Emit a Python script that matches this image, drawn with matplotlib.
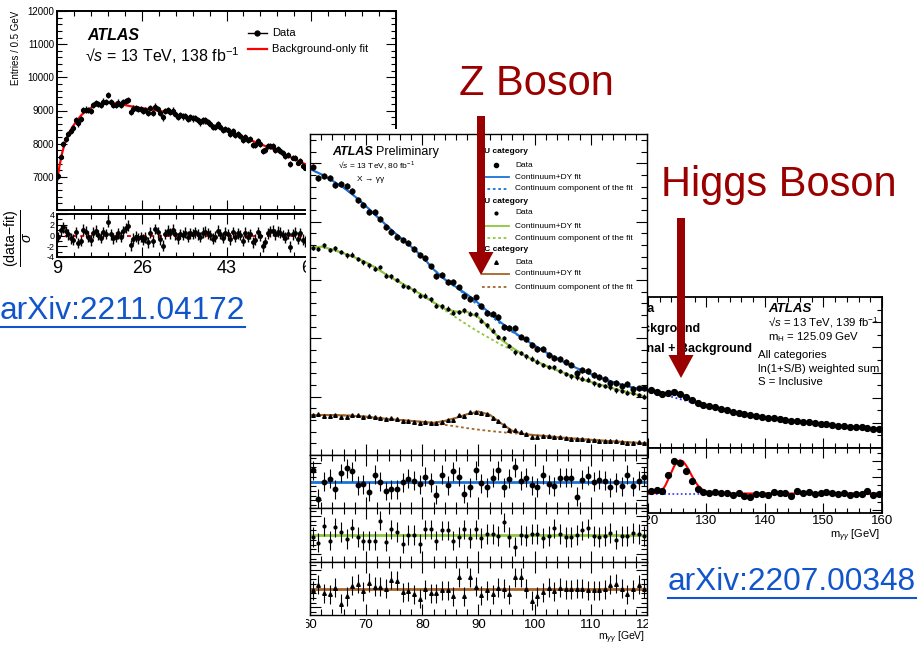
import numpy as np
import matplotlib.pyplot as plt
from matplotlib.patches import Rectangle, FancyArrow
from matplotlib.transforms import Bbox, TransformedBbox
from matplotlib.ticker import MultipleLocator, FixedLocator

plt.rcParams['font.family'] = ['Liberation Sans', 'DejaVu Sans']
plt.rcParams['mathtext.fontset'] = 'custom'
plt.rcParams['mathtext.rm'] = 'Liberation Sans'
plt.rcParams['mathtext.it'] = 'Liberation Sans:italic'
plt.rcParams['mathtext.bf'] = 'Liberation Sans:bold'
plt.rcParams['axes.unicode_minus'] = False

#%% data

# left: low-mass diphoton, 0.5 GeV bins from 9.25 GeV
low_data = [7020, 7610, 7990, 8150, 8290, 8370, 8460, 8700, 8610, 8740,
            9010, 9030, 9010, 8990, 9160, 9230, 9190, 9160, 9270, 9250,
            9470, 9250, 9180, 9180, 9240, 9170, 9250, 9290, 9310, 8960,
            9060, 9080, 9040, 9040, 8990, 9010, 8920, 9080, 8920, 9120,
            9050, 8920, 8790, 8980, 9020, 8950, 9000, 8890, 8810, 8860,
            8820, 8840, 8750, 8790, 8760, 8770, 8710, 8640, 8700, 8700,
            8650, 8590, 8500, 8510, 8580, 8500, 8400, 8450, 8400, 8280,
            8370, 8260, 8300, 8240, 8100, 8210, 8120, 8140, 7960, 7970,
            8070, 7980, 7770, 7810, 7940, 7940, 7920, 7820, 7830, 7780,
            7710, 7620, 7660, 7390, 7580, 7570, 7430, 7490, 7340, 7280,
            7380, 7380]
low_pull = [-0.3, 1.0, 1.5, 0.8, 0.2, -0.5, -0.8, 0.6, -1.4, -1.0,
            1.1, 0.7, -0.2, -0.9, 0.5, 0.9, 0.1, -0.4, 0.6, 0.3,
            2.6, 0.2, -0.5, -0.3, 0.4, -0.2, 0.8, 1.4, 1.8, -1.8,
            -0.6, -0.2, -0.5, -0.3, -0.8, -0.4, -1.3, 0.5, -1.1, 1.2,
            0.6, -0.7, -1.9, 0.3, 0.9, 0.4, 1.1, 0.2, -0.5, 0.3,
            0.1, 0.5, -0.2, 0.4, 0.3, 0.6, 0.2, -0.3, 0.5, 0.7,
            0.4, 0.1, -0.6, -0.2, 0.9, 0.3, -0.4, 0.5, 0.2, -0.7,
            0.6, -0.3, 0.4, 0.1, -1.0, 0.5, -0.2, 0.3, -1.3, -0.8,
            0.6, -0.1, -2.0, -1.2, 0.4, 0.8, 0.9, 0.2, 0.7, 0.5,
            0.1, -0.4, 0.3, -2.1, 0.2, 0.5, -0.6, 0.4, -0.8, -1.1,
            0.2, 0.6]
low_fit_x = [9.0, 9.5, 10, 10.5, 11, 12, 13, 14, 15, 16, 17, 18, 19, 20, 21, 22,
             24, 26, 28, 30, 32, 34, 36, 38, 40, 42, 44, 46, 48, 50, 52, 54, 56, 58, 60]
low_fit_y = [6850, 7330, 7700, 7980, 8180, 8480, 8700, 8880, 9000, 9100, 9165, 9208,
             9228, 9228, 9210, 9182, 9122, 9070, 9030, 8978, 8905, 8825, 8745, 8665,
             8573, 8455, 8335, 8215, 8095, 7975, 7855, 7718, 7578, 7438, 7300]

# middle: Z peak in the three categories, 1 GeV bins from 60.5 GeV
uu_data = [2470, 2370, 2390, 2370, 2315, 2325, 2305, 2260, 2185, 2145,
           2080, 2080, 2020, 1950, 1910, 1865, 1845, 1815, 1765, 1715,
           1685, 1615, 1535, 1545, 1480, 1485, 1435, 1360, 1340, 1350,
           1275, 1220, 1205, 1185, 1100, 1090, 1085, 1015, 990, 940,
           910, 910, 860, 830, 825, 800, 775, 705, 730, 720,
           685, 670, 650, 620, 615, 590, 610, 565, 570, 570]
uu_pull = [1.2, -1.8, 0.0, 0.3, -0.8, 0.9, 1.4, 1.1, -0.4, -0.3,
           -1.1, 0.7, 0.0, -1.0, -0.8, -0.8, -0.1, 0.3, 0.1, -0.3,
           0.5, -0.1, -1.4, 0.7, -0.4, 1.1, 0.5, -1.3, -0.6, 1.2,
           -0.2, -0.6, 0.4, 1.2, -0.6, 0.3, 1.5, 0.1, 0.4, -0.4,
           -0.6, 0.7, -0.3, -0.5, 0.4, 0.4, 0.4, -1.6, 0.2, 0.6,
           0.0, 0.2, 0.1, -0.6, -0.1, -0.5, 0.7, -0.5, 0.1, 0.5]
cu_data = [1775, 1765, 1795, 1755, 1770, 1740, 1710, 1715, 1680, 1650,
           1625, 1595, 1610, 1535, 1530, 1500, 1450, 1440, 1410, 1365,
           1365, 1335, 1280, 1275, 1255, 1220, 1225, 1240, 1210, 1205,
           1150, 1110, 1065, 1010, 1000, 935, 880, 875, 845, 825,
           800, 770, 755, 750, 720, 695, 675, 665, 655, 645,
           615, 600, 590, 580, 555, 550, 535, 530, 515, 500]
cu_pull = [-0.2, -0.8, 0.9, -0.6, 0.8, 0.3, -0.4, 0.7, -0.2, -0.6,
           -0.6, -0.6, 1.5, -0.7, 0.6, 0.3, -0.9, 0.0, 0.0, -0.9,
           0.6, 0.6, -0.6, 0.5, 0.5, -0.6, -0.2, 0.6, -0.3, 0.6,
           -0.3, 0.1, 0.1, -0.1, 1.3, -0.2, -1.2, 0.0, -0.1, 0.1,
           0.1, -0.3, -0.1, 0.7, 0.1, -0.2, -0.2, 0.0, 0.5, 0.7,
           -0.1, -0.2, -0.1, 0.2, -0.5, -0.1, -0.1, 0.2, 0.1, -0.1]
cc_data = [340, 348, 337, 335, 343, 322, 329, 340, 339, 326,
           333, 323, 318, 311, 317, 312, 293, 290, 283, 273,
           282, 271, 273, 286, 296, 301, 340, 332, 370, 369,
           357, 350, 320, 291, 256, 217, 215, 201, 178, 157,
           158, 159, 161, 151, 151, 145, 141, 139, 135, 130,
           126, 123, 121, 124, 122, 113, 103, 106, 109, 101]
cc_pull = [-0.2, 0.4, -0.5, -0.6, 0.1, -1.6, -0.8, 0.3, 0.5, -0.3,
           0.6, 0.2, 0.2, 0.0, 0.9, 0.8, -0.4, -0.3, -0.6, -1.1,
           -0.1, -0.5, -0.5, -0.2, -0.2, -0.8, 1.2, -0.8, 1.2, 0.2,
           -0.7, -0.2, -0.6, 0.1, 0.0, -0.6, 1.2, 1.2, 0.0, -1.3,
           -0.8, -0.4, 0.1, -0.3, 0.1, -0.1, -0.1, 0.0, 0.0, -0.2,
           -0.2, -0.2, -0.1, 0.4, 0.5, 0.0, -0.6, -0.1, 0.4, 0.0]
uu_err, cu_err, cc_err = 25, 20, 10
# fit curves at 2 GeV steps, 60 ... 120
uu_fit = [2450, 2405, 2350, 2290, 2215, 2130, 2040, 1950, 1865, 1785, 1700, 1590, 1505,
          1440, 1375, 1300, 1215, 1135, 1062, 997, 937, 880, 826, 777, 733, 693, 657,
          625, 596, 572, 553]
uu_cont = [2450, 2405, 2350, 2290, 2215, 2130, 2040, 1950, 1865, 1785, 1700, 1590, 1505,
           1435, 1360, 1280, 1198, 1122, 1055, 997, 937, 880, 826, 777, 733, 693, 657,
           625, 596, 572, 553]
cu_fit = [1775, 1785, 1760, 1728, 1692, 1650, 1595, 1532, 1480, 1425, 1370, 1308, 1252,
          1228, 1226, 1180, 1085, 990, 920, 858, 808, 765, 725, 690, 655, 625, 598,
          570, 545, 520, 497]
cu_cont = [1775, 1785, 1760, 1728, 1692, 1650, 1595, 1532, 1480, 1425, 1370, 1305, 1240,
           1178, 1115, 1055, 1000, 945, 898, 855, 808, 765, 725, 690, 655, 625, 598,
           570, 545, 520, 497]
cc_fit = [342, 343, 342, 340, 335, 328, 318, 308, 300, 292, 284, 276, 292, 318, 350, 372,
          345, 272, 208, 180, 170, 162, 152, 144, 137, 130, 123, 117, 111, 105, 100]
cc_cont = [342, 343, 342, 340, 335, 328, 318, 308, 300, 292, 284, 272, 258, 245, 230, 217,
           206, 196, 187, 179, 170, 162, 152, 144, 137, 130, 123, 117, 111, 105, 100]

# right: H -> yy weighted sum, 1 GeV bins from 120.5 GeV
higgs_data = [2285, 2225, 2155, 2190, 2210, 2135, 2020, 1900, 1790, 1720,
              1660, 1615, 1545, 1500, 1435, 1405, 1340, 1300, 1280, 1245,
              1205, 1195, 1155, 1125, 1075, 1085, 1050, 1025, 990, 970,
              950, 920, 890, 875, 845, 830, 815, 810, 770, 760]
higgs_resid = [15, 20, 18, 115, 200, 190, 140, 78, 25, 10,
               5, 8, 5, 6, -12, 4, -18, -20, -5, -2,
               -10, 12, 2, 5, -18, 15, 6, 8, -4, 2,
               8, 4, -6, 3, -8, -2, 0, 14, -8, -4]
higgs_fit_x = [118, 120, 121, 122, 123, 124, 125, 126, 127, 128, 129, 130, 131, 132,
               134, 136, 138, 140, 142, 144, 146, 148, 150, 152, 154, 156, 158, 160]
higgs_sb = [2365, 2300, 2237, 2178, 2155, 2168, 2175, 2112, 1995, 1870, 1770, 1694, 1634,
            1565, 1470, 1375, 1300, 1230, 1165, 1107, 1055, 1005, 955, 905, 862, 822, 787, 755]
higgs_bkg = [2365, 2300, 2235, 2170, 2105, 2040, 1975, 1912, 1850, 1790, 1735, 1682, 1630,
             1565, 1470, 1375, 1300, 1230, 1165, 1107, 1055, 1005, 955, 905, 862, 822, 787, 755]
sig_x = [120, 121, 121.5, 122, 122.5, 123, 123.5, 124, 124.5, 125, 125.5, 126, 126.5,
         127, 127.5, 128, 128.5, 129, 129.5, 130, 131, 132, 160]
sig_y = [0, 2, 4, 8, 22, 50, 88, 128, 168, 195, 205, 198, 175, 145, 110, 78, 52, 33, 20,
         12, 4, 0, 0]

low_bins = np.arange(9.25, 60, 0.5)
zz_bins = np.arange(60.5, 120, 1.0)
zz_fit_x = np.arange(60, 121, 2)
higgs_bins = np.arange(120.5, 160, 1.0)

#%% helpers

W, H = 918, 648
dark_red = '#9a0000'
link_blue = '#1155cc'
uu_col, cu_col, cc_col = '#1a72d6', '#8dc63f', '#a5652a'


def px_rect(x0, y0, x1, y1):
    # pixel box measured from the top-left corner -> figure fraction
    return [x0 / W, 1 - y1 / H, (x1 - x0) / W, (y1 - y0) / H]


def root_axes(ax, lw=1.0, major=6, minor=3, size=8):
    for s in ax.spines.values():
        s.set_linewidth(lw)
    ax.tick_params(which='both', direction='in', top=True, right=True,
                   labelsize=size, width=0.8)
    ax.tick_params(which='major', length=major)
    ax.tick_params(which='minor', length=minor)


fig = plt.figure(figsize=(W / 100, H / 100), dpi=100)

#%% left plot

ax1 = fig.add_axes(px_rect(57, 11, 396, 210))
ax1r = fig.add_axes(px_rect(57, 214, 396, 257))
for a in (ax1, ax1r):
    a.set_zorder(1)
    root_axes(a, lw=1.4, major=7, minor=3.5, size=7)
    a.set_xlim(9, 77)
    a.xaxis.set_major_locator(FixedLocator([9, 26, 43, 60, 77]))
    a.xaxis.set_minor_locator(FixedLocator(np.arange(9, 77.1, 3.4)))

ax1.errorbar(low_bins, low_data, yerr=np.sqrt(low_data), fmt='o', color='k',
             ms=2.8, elinewidth=1, capsize=0, zorder=3)
ax1.plot(low_fit_x, low_fit_y, color='red', lw=1.6, zorder=2)
ax1.set_ylim(6000, 12000)
ax1.set_yticks(range(6000, 12001, 1000), [''] + [str(v) for v in range(7000, 12001, 1000)])
ax1.yaxis.set_minor_locator(MultipleLocator(200))
ax1.tick_params(labelbottom=False, pad=2)
ax1.set_ylabel('Entries / 0.5 GeV', fontsize=7, loc='top')
ax1.yaxis.set_label_coords(-0.105, 1.0)

ax1.text(0.088, 0.854, 'ATLAS', transform=ax1.transAxes, fontsize=11.5,
         fontweight='bold', fontstyle='italic', va='baseline')
ax1.text(0.083, 0.742, '√$s$ = 13 TeV, 138 fb$^{\\mathrm{-1}}$', transform=ax1.transAxes,
         fontsize=11.5, va='baseline')
ax1.plot([0.563, 0.619], [0.889, 0.889], color='k', lw=1, transform=ax1.transAxes)
ax1.plot([0.591], [0.889], 'o', color='k', ms=3.5, transform=ax1.transAxes)
ax1.plot([0.563, 0.619], [0.809, 0.809], color='red', lw=1.6, transform=ax1.transAxes)
ax1.text(0.634, 0.889, 'Data', transform=ax1.transAxes, fontsize=8, va='center')
ax1.text(0.634, 0.809, 'Background-only fit', transform=ax1.transAxes, fontsize=8, va='center')

ax1r.errorbar(low_bins, low_pull, yerr=1.0, fmt='o', color='k', ms=2.5,
              elinewidth=1, capsize=0, zorder=3)
ax1r.axhline(0, color='red', lw=1.4, ls=(0, (2, 2)), zorder=2)
ax1r.set_ylim(-4, 4)
ax1r.set_yticks([-4, -2, 0, 2, 4])
ax1r.yaxis.set_minor_locator(MultipleLocator(1))
ax1r.tick_params(axis='y', labelsize=6.5, pad=1.5)
ax1r.tick_params(axis='x', labelsize=13, pad=2.5)
ax1r.set_ylabel(r'$\frac{\mathrm{(data{-}fit)}}{\sigma}$', fontsize=14.5)
ax1r.yaxis.set_label_coords(-0.066, 0.45)

#%% right plot (Higgs), partly hidden by the middle one

fig.add_artist(Rectangle((540 / W, 1 - 548 / H), 365 / W, 258 / H, transform=fig.transFigure,
                         facecolor='white', edgecolor='none', zorder=2))
ax3 = fig.add_axes(px_rect(560, 297, 882, 448))
ax3r = fig.add_axes(px_rect(560, 448, 882, 513))
for a in (ax3, ax3r):
    a.set_zorder(3)
    root_axes(a, lw=1.3, major=7, minor=3.5, size=9.5)
    a.set_xlim(105, 160)
    a.xaxis.set_major_locator(MultipleLocator(10))
    a.xaxis.set_minor_locator(MultipleLocator(2))
    a.tick_params(labelleft=False)

ax3.plot(higgs_fit_x, higgs_bkg, color='#2b2bff', lw=1.3, ls=(0, (1, 1.5)), zorder=2)
ax3.plot(higgs_fit_x, higgs_sb, color='red', lw=1.5, zorder=2)
ax3.plot(higgs_bins, higgs_data, 'o', color='k', ms=4.2, zorder=3)
ax3.set_ylim(0, 6000)
ax3.yaxis.set_major_locator(MultipleLocator(1000))
ax3.yaxis.set_minor_locator(MultipleLocator(500))
ax3.tick_params(labelbottom=False)

leg_y = [0.921, 0.788, 0.656]
ax3.plot([0.14], [leg_y[0]], 'o', color='k', ms=4.2, transform=ax3.transAxes)
ax3.plot([0.10, 0.18], [leg_y[1]] * 2, color='#2b2bff', ls=(0, (1, 1.5)), transform=ax3.transAxes)
ax3.plot([0.10, 0.18], [leg_y[2]] * 2, color='red', lw=1.5, transform=ax3.transAxes)
for yy, lab in zip(leg_y, ['Data', 'Background', 'Signal + Background']):
    ax3.text(0.208, yy, lab, transform=ax3.transAxes, fontsize=9, fontweight='bold', va='center')

ax3.text(0.646, 0.921, 'ATLAS', transform=ax3.transAxes, fontsize=9.5,
         fontweight='bold', fontstyle='italic', va='center')
ax3.text(0.646, 0.828, '√$s$ = 13 TeV, 139 fb$^{\\mathrm{-1}}$', transform=ax3.transAxes,
         fontsize=8.2, va='center')
ax3.text(0.646, 0.735, r'm$_{\mathrm{H}}$ = 125.09 GeV', transform=ax3.transAxes,
         fontsize=8.2, va='center')
for yy, lab in zip([0.616, 0.523, 0.437],
                   ['All categories', 'ln(1+S/B) weighted sum', 'S = Inclusive']):
    ax3.text(0.615, yy, lab, transform=ax3.transAxes, fontsize=8.2, va='center')

ax3r.axhline(0, color='#2b2bff', lw=1.2, ls=(0, (1, 1.5)), zorder=2)
ax3r.plot(sig_x, sig_y, color='red', lw=1.5, zorder=2)
ax3r.errorbar(higgs_bins, higgs_resid, yerr=10, fmt='o', color='k', ms=4.2,
              elinewidth=0.8, capsize=0, zorder=3)
ax3r.set_ylim(-120, 280)
ax3r.yaxis.set_major_locator(MultipleLocator(100))
ax3r.yaxis.set_minor_locator(MultipleLocator(50))
ax3r.tick_params(axis='x', pad=1.5)
ax3r.text(0.994, -0.354, r'm$_{\gamma\gamma}$ [GeV]', transform=ax3r.transAxes,
          fontsize=8, ha='right', va='center')

#%% middle plot (Z peak), on top

fig.add_artist(Rectangle((306 / W, 0), 342 / W, 1 - 129 / H, transform=fig.transFigure,
                         facecolor='white', edgecolor='none', zorder=4))
clip2 = TransformedBbox(Bbox.from_extents(306 / W, 0, 648 / W, 1 - 129 / H), fig.transFigure)

ax2 = fig.add_axes(px_rect(310, 134, 647, 455))
ax2r = [fig.add_axes(px_rect(310, y0, 647, y1)) for y0, y1 in [(455, 508), (508, 562), (562, 615)]]
for a in [ax2] + ax2r:
    a.set_zorder(5)
    root_axes(a, lw=1.0, major=8, minor=4, size=9.5)
    a.set_xlim(60, 120)
    a.xaxis.set_major_locator(MultipleLocator(10))
    a.xaxis.set_minor_locator(MultipleLocator(2))
    a.tick_params(labelleft=False, labelbottom=False)

ax2.plot(zz_fit_x, uu_cont, color=uu_col, lw=1.3, ls=(0, (1.5, 1.5)), zorder=2)
ax2.plot(zz_fit_x, uu_fit, color=uu_col, lw=1.5, zorder=2)
ax2.plot(zz_fit_x, cu_cont, color=cu_col, lw=1.3, ls=(0, (1.5, 1.5)), zorder=2)
ax2.plot(zz_fit_x, cu_fit, color=cu_col, lw=1.5, zorder=2)
ax2.plot(zz_fit_x, cc_cont, color=cc_col, lw=1.3, ls=(0, (1.5, 1.5)), zorder=2)
ax2.plot(zz_fit_x, cc_fit, color=cc_col, lw=1.5, zorder=2)
ax2.errorbar(zz_bins, uu_data, yerr=uu_err, fmt='o', color='k', ms=3.4,
             elinewidth=0.8, capsize=0, zorder=3)
ax2.errorbar(zz_bins, cu_data, yerr=cu_err, fmt='o', color='k', ms=2.0,
             elinewidth=0.8, capsize=0, zorder=3)
ax2.errorbar(zz_bins, cc_data, yerr=cc_err, fmt='^', color='k', ms=2.6,
             elinewidth=0.8, capsize=0, zorder=3)
ax2.set_ylim(0, 2750)
ax2.yaxis.set_major_locator(MultipleLocator(500))
ax2.yaxis.set_minor_locator(MultipleLocator(100))

ax2.text(0.065, 0.935, 'ATLAS', transform=ax2.transAxes, fontsize=9,
         fontweight='bold', fontstyle='italic', va='baseline')
ax2.text(0.196, 0.935, 'Preliminary', transform=ax2.transAxes, fontsize=9, va='baseline')
ax2.text(0.083, 0.903, '√$s$ = 13 TeV, 80 fb$^{\\mathrm{-1}}$', transform=ax2.transAxes,
         fontsize=6, va='center')
ax2.text(0.139, 0.857, 'X → γγ', transform=ax2.transAxes, fontsize=6, va='center')

rows = [0.944, 0.903, 0.866, 0.829, 0.791, 0.754, 0.713, 0.676, 0.639, 0.601, 0.564, 0.523]
cats = [('UU category', uu_col, 'o', 3.0), ('CU category', cu_col, 'o', 2.0),
        ('CC category', cc_col, '^', 2.6)]
for k, (name, col, mk, ms) in enumerate(cats):
    r = rows[4 * k:4 * k + 4]
    ax2.text(0.4985, r[0], name, transform=ax2.transAxes, fontsize=6,
             fontweight='bold', va='center')
    ax2.plot([0.552], [r[1]], mk, color='k', ms=ms, transform=ax2.transAxes)
    ax2.plot([0.510, 0.590], [r[2]] * 2, color=col, lw=1.3, transform=ax2.transAxes)
    ax2.plot([0.510, 0.590], [r[3]] * 2, color=col, lw=1.3, ls=(0, (1.5, 1.5)),
             transform=ax2.transAxes)
    ax2.text(0.608, r[1], 'Data', transform=ax2.transAxes, fontsize=6, va='center')
    ax2.text(0.608, r[2], 'Continuum+DY fit', transform=ax2.transAxes, fontsize=6, va='center')
    ax2.text(0.608, r[3], 'Continuum component of the fit', transform=ax2.transAxes,
             fontsize=6, va='center')

for a, pull, col, mk, ms in zip(ax2r, [uu_pull, cu_pull, cc_pull], [uu_col, cu_col, cc_col],
                                ['o', 'o', '^'], [3.2, 2.0, 2.6]):
    a.axhline(0, color=col, lw=2, zorder=2)
    a.errorbar(zz_bins, pull, yerr=1.0, fmt=mk, color='k', ms=ms,
               elinewidth=0.8, capsize=0, zorder=3)
    a.set_ylim(-2.8, 2.8)
    a.yaxis.set_major_locator(MultipleLocator(2))
    a.yaxis.set_minor_locator(MultipleLocator(0.5))

ax2r[-1].tick_params(labelbottom=True, pad=3)
for lbl in ax2r[-1].get_xticklabels():
    lbl.set_clip_box(clip2)
    lbl.set_clip_on(True)
ax2r[-1].text(0.995, -0.434, r'm$_{\gamma\gamma}$ [GeV]', transform=ax2r[-1].transAxes,
              fontsize=7.5, ha='right', va='center')

#%% arrows, labels and links on top of everything

ov = fig.add_axes([0, 0, 1, 1])
ov.set_zorder(10)
ov.set_xlim(0, W)
ov.set_ylim(H, 0)
ov.axis('off')
ov.patch.set_alpha(0)

ov.add_patch(FancyArrow(481, 116, 0, 159, width=8, head_width=25, head_length=23,
                        length_includes_head=True, color=dark_red, lw=0))
ov.add_patch(FancyArrow(681, 218, 0, 160, width=8, head_width=25, head_length=23,
                        length_includes_head=True, color=dark_red, lw=0))
ov.text(459, 95, 'Z Boson', fontsize=30, color=dark_red, va='baseline')
ov.text(661, 196, 'Higgs Boson', fontsize=30, color=dark_red, va='baseline')

links = [ov.text(0, 319, 'arXiv:2211.04172', fontsize=22.8, color=link_blue, va='baseline'),
         ov.text(668, 590, 'arXiv:2207.00348', fontsize=22.8, color=link_blue, va='baseline')]
fig.canvas.draw()
for t, base in zip(links, [319, 590]):
    bb = t.get_window_extent().transformed(ov.transData.inverted())
    ov.plot([bb.x0, bb.x1], [base + 8, base + 8], color=link_blue, lw=1.5)

fig.savefig('out.png', dpi=100)
